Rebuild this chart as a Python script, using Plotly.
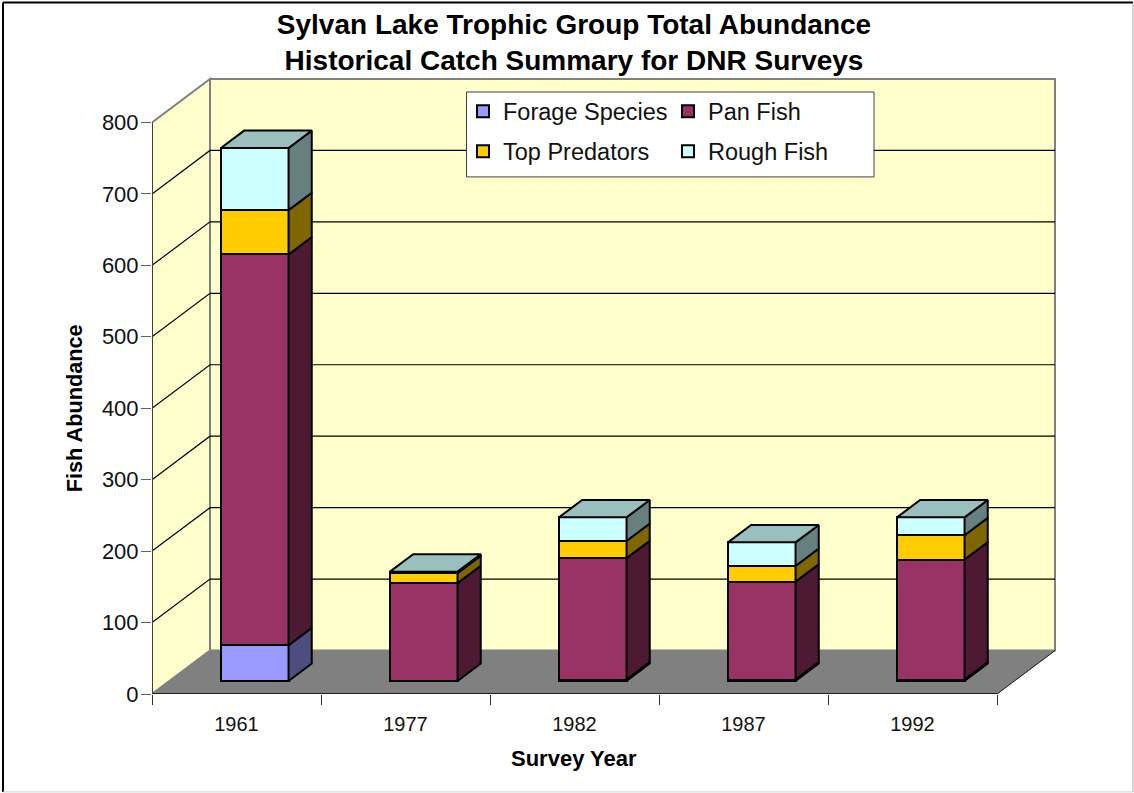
import plotly.graph_objects as go

# Survey data, stacked from the ground up
years = ["1961", "1977", "1982", "1987", "1992"]
forage_species = [50, 0, 2, 2, 2]
pan_fish = [547, 137, 170, 137, 168]
top_predators = [62, 14, 24, 22, 34]
rough_fish = [87, 2, 33, 33, 25]
y_ticks = [0, 100, 200, 300, 400, 500, 600, 700, 800]

series_names = ["Forage Species", "Pan Fish", "Top Predators", "Rough Fish"]
series_values = [forage_species, pan_fish, top_predators, rough_fish]
front_colors = ["#9999FF", "#993366", "#FFCC00", "#CCFFFF"]
side_colors = ["#4D4D80", "#4D1933", "#806600", "#668080"]
top_color = "#99BFBF"

# Page geometry of the axes box, in pixels
WIDTH, HEIGHT = 1134, 793
LEFT, BOTTOM = 152, 694
PX_PER_CAT, PX_PER_UNIT = 169.0, 0.715
DEPTH_PX_X, DEPTH_PX_Y = 58.0, 43.5
PAD_RIGHT, PAD_TOP = 3, 3

n_cat = len(years)
y_max = max(y_ticks)
dx = DEPTH_PX_X / PX_PER_CAT
dy = DEPTH_PX_Y / PX_PER_UNIT
x_range = [0, n_cat + dx + PAD_RIGHT / PX_PER_CAT]
y_range = [0, y_max + dy + PAD_TOP / PX_PER_UNIT]
plot_w = (x_range[1] - x_range[0]) * PX_PER_CAT
plot_h = (y_range[1] - y_range[0]) * PX_PER_UNIT
top_px = BOTTOM - plot_h
right_px = LEFT + plot_w


def paper_x(px):
    return (px - LEFT) / plot_w


def paper_y(py):
    return (BOTTOM - py) / plot_h


def poly(points):
    return "M" + "L".join(f"{x},{y}" for x, y in points) + "Z"


def polyline(points):
    return "M" + "L".join(f"{x},{y}" for x, y in points)


# Columns occupy the middle of the depth and 40% of each category
BAR_FRONT, BAR_BACK = 0.3, 0.7
BAR_WIDTH = 0.4
centers = [i + 0.5 + BAR_FRONT * dx + 0.005 for i in range(n_cat)]
d_bar_x = (BAR_BACK - BAR_FRONT) * dx
d_bar_y = (BAR_BACK - BAR_FRONT) * dy
floor_y = BAR_FRONT * dy

shapes = []
GREY = "#808080"
# Side wall, back wall and floor of the box
shapes.append(dict(type="path", layer="below", xref="x", yref="y",
                   path=poly([(0, 0), (dx, dy), (dx, y_max + dy), (0, y_max)]),
                   fillcolor="#FFFFCC", line=dict(color=GREY, width=2)))
shapes.append(dict(type="path", layer="below", xref="x", yref="y",
                   path=poly([(dx, dy), (n_cat + dx, dy), (n_cat + dx, y_max + dy), (dx, y_max + dy)]),
                   fillcolor="#FFFFCC", line=dict(color=GREY, width=2)))
shapes.append(dict(type="path", layer="below", xref="x", yref="y",
                   path=poly([(0, 0), (n_cat, 0), (n_cat + dx, dy), (dx, dy)]),
                   fillcolor=GREY, line=dict(color=GREY, width=1)))
# Gridlines wrap from the side wall onto the back wall
for v in y_ticks[1:-1]:
    shapes.append(dict(type="path", layer="below", xref="x", yref="y",
                       path=polyline([(0, v), (dx, v + dy), (n_cat + dx, v + dy)]),
                       line=dict(color="#000000", width=1.2)))
# Axis lines and the front-right floor edge
shapes.append(dict(type="path", layer="below", xref="x", yref="y",
                   path=polyline([(n_cat, 0), (n_cat + dx, dy)]),
                   line=dict(color="#202020", width=1)))
shapes.append(dict(type="line", layer="below", xref="x", yref="y", x0=0, x1=0, y0=0, y1=y_max,
                   line=dict(color="#404040", width=2)))
shapes.append(dict(type="line", layer="below", xref="x", yref="y", x0=0, x1=n_cat, y0=0, y1=0,
                   line=dict(color="#202020", width=2)))
# Legend panel
shapes.append(dict(type="rect", layer="above", xref="paper", yref="paper",
                   x0=paper_x(466.5), x1=paper_x(874), y0=paper_y(176.5), y1=paper_y(91.5),
                   fillcolor="white", line=dict(color="#404040", width=1)))
# Page frame
for x0, y0, x1, y1, c, w in [(3, 2, 1133, 2, "#000000", 2), (3, 2, 3, 792, "#000000", 2),
                             (1133, 2, 1133, 792, "#A8A8A8", 1), (3, 792, 1133, 792, "#D0D0D0", 1)]:
    shapes.append(dict(type="line", layer="above", xref="paper", yref="paper",
                       x0=paper_x(x0), x1=paper_x(x1), y0=paper_y(y0), y1=paper_y(y1),
                       line=dict(color=c, width=w)))

fig = go.Figure()
OUTLINE = dict(color="#000000", width=2)

# Front faces of the stacked columns
running = [floor_y] * n_cat
bases_by_series = []
for name, values, color, legend_id in zip(series_names, series_values, front_colors,
                                          ["legend", "legend", "legend2", "legend2"]):
    bases = list(running)
    bases_by_series.append(bases)
    fig.add_trace(go.Bar(x=centers, y=values, base=bases, width=BAR_WIDTH, name=name,
                         marker=dict(color=color, line=OUTLINE), legend=legend_id,
                         hoverinfo="name+y"))
    running = [b + v for b, v in zip(bases, values)]

# Right-hand faces, one band per series
for values, bases, color in zip(series_values, bases_by_series, side_colors):
    xs, ys = [], []
    for c, v, b in zip(centers, values, bases):
        if v <= 0:
            continue
        xr = c + BAR_WIDTH / 2
        xs += [xr, xr + d_bar_x, xr + d_bar_x, xr, xr, None]
        ys += [b, b + d_bar_y, b + v + d_bar_y, b + v, b, None]
    fig.add_trace(go.Scatter(x=xs, y=ys, mode="lines", fill="toself", fillcolor=color,
                             line=OUTLINE, showlegend=False, hoverinfo="skip"))

# Top face of each column
xs, ys = [], []
for c, t in zip(centers, running):
    xl, xr = c - BAR_WIDTH / 2, c + BAR_WIDTH / 2
    xs += [xl, xl + d_bar_x, xr + d_bar_x, xr, xl, None]
    ys += [t, t + d_bar_y, t + d_bar_y, t, t, None]
fig.add_trace(go.Scatter(x=xs, y=ys, mode="lines", fill="toself", fillcolor=top_color,
                         line=OUTLINE, showlegend=False, hoverinfo="skip"))

FONT = "Liberation Sans, Arial, sans-serif"
legend_common = dict(orientation="h", xanchor="left", yanchor="middle", bgcolor="rgba(0,0,0,0)",
                     borderwidth=0, font=dict(family=FONT, size=23.5, color="#111111"),
                     entrywidth=160, entrywidthmode="pixels", itemclick=False, itemdoubleclick=False)

fig.update_layout(
    width=WIDTH,
    height=HEIGHT,
    autosize=False,
    margin=dict(l=LEFT, r=WIDTH - right_px, t=top_px, b=HEIGHT - BOTTOM, pad=0, autoexpand=False),
    paper_bgcolor="white",
    plot_bgcolor="white",
    barmode="overlay",
    bargap=0,
    shapes=shapes,
    title=dict(
        text="<b>Sylvan Lake Trophic Group Total Abundance<br>Historical Catch Summary for DNR Surveys</b>",
        x=574 / WIDTH, xanchor="center", xref="container",
        y=1 - 34 / HEIGHT, yanchor="middle", yref="container",
        font=dict(family=FONT, size=28, color="#000000"),
    ),
    legend=dict(x=paper_x(463), y=paper_y(111), **legend_common),
    legend2=dict(x=paper_x(463), y=paper_y(151), **legend_common),
    xaxis=dict(
        range=x_range, showgrid=False, zeroline=False, showline=False, fixedrange=True,
        tickmode="array", tickvals=[i + 0.5 for i in range(n_cat)], ticktext=years,
        ticks="", ticklabelstandoff=16,
        tickfont=dict(family=FONT, size=20, color="#111111"),
        minor=dict(tickmode="array", tickvals=list(range(n_cat + 1)), ticks="outside",
                   ticklen=10, tickwidth=1, tickcolor="#303030", showgrid=False),
    ),
    yaxis=dict(
        range=y_range, showgrid=False, zeroline=False, showline=False, fixedrange=True,
        tickmode="array", tickvals=y_ticks, ticktext=[str(v) for v in y_ticks],
        ticks="outside", ticklen=10, tickwidth=1, tickcolor="#606060",
        ticklabelstandoff=-2,
        tickfont=dict(family=FONT, size=22, color="#111111"),
    ),
    annotations=[
        dict(text="<b>Fish Abundance</b>", xref="paper", yref="paper", x=paper_x(74), y=paper_y(408),
             xanchor="center", yanchor="middle", textangle=-90, showarrow=False,
             font=dict(family=FONT, size=21.7, color="#000000")),
        dict(text="<b>Survey Year</b>", xref="paper", yref="paper", x=paper_x(574), y=paper_y(759),
             xanchor="center", yanchor="middle", showarrow=False,
             font=dict(family=FONT, size=22, color="#000000")),
    ],
)

fig.write_html("out.html", config=dict(displayModeBar=False))
